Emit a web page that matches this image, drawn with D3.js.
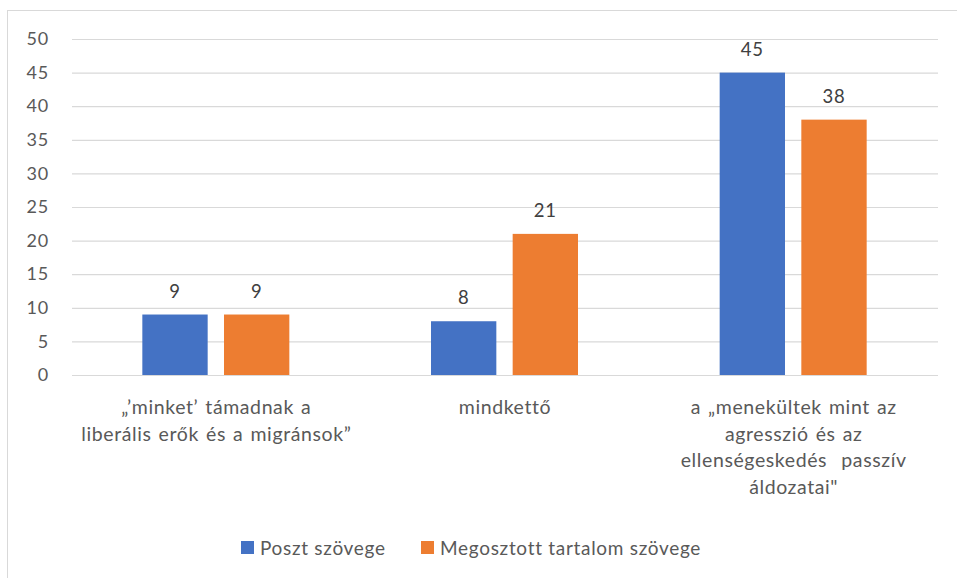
<!DOCTYPE html>
<html><head><meta charset="utf-8">
<script src="https://cdn.jsdelivr.net/npm/d3@7"></script>
<style>body{margin:0;background:#fff;} svg{display:block;font-family:Lato,"Open Sans",sans-serif;}</style>
</head><body>
<script>
const categories = [
  ["„’minket’ támadnak a", "liberális erők és a migránsok”"],
  ["mindkettő"],
  ["a „menekültek mint az", "agresszió és az", "ellenségeskedés  passzív", "áldozatai\""]
];
const seriesNames = ["Poszt szövege", "Megosztott tartalom szövege"];
const poszt = [9, 8, 45];
const megosztott = [9, 21, 38];
const yTicks = [0, 5, 10, 15, 20, 25, 30, 35, 40, 45, 50];
const colors = ["#4472C4", "#ED7D31"];

(function () {
const W = 957, H = 578;
const svg = d3.select("body").append("svg").attr("width", W).attr("height", H);
svg.append("rect").attr("x", 7.5).attr("y", 10.5).attr("width", 960).attr("height", 580)
  .attr("fill", "#fff").attr("stroke", "#d9d9d9").attr("stroke-width", 1);

const mL = 72, mR = 938, mT = 39, mB = 375;
const x = d3.scaleBand().domain(d3.range(categories.length)).range([mL, mR]).padding(0);
const y = d3.scaleLinear().domain([0, 50]).range([mB, mT]);

const yAxis = d3.axisLeft(y).tickValues(yTicks).tickSize(-(mR - mL)).tickPadding(23);
const gy = svg.append("g").attr("transform", `translate(${mL},0)`).call(yAxis);
gy.select(".domain").remove();
gy.selectAll(".tick line").attr("stroke", "#d9d9d9").attr("stroke-width", 1.2);
gy.selectAll(".tick text").attr("fill", "#595959").attr("font-size", 18)
  .attr("letter-spacing", "0.8px").attr("font-family", "Lato,sans-serif");

const data = categories.map((c, i) => ({i, vals: [poszt[i], megosztott[i]]}));
const x1 = d3.scaleBand().domain([0, 1]).range([-74, 73]).paddingInner(0.2);

const g = svg.append("g");
data.forEach(d => {
  d.vals.forEach((v, s) => {
    const bx = x(d.i) + x.bandwidth() / 2 + x1(s);
    g.append("rect").attr("x", bx).attr("y", y(v)).attr("width", x1.bandwidth())
      .attr("height", y(0) - y(v)).attr("fill", colors[s]);
    g.append("text").attr("x", bx + x1.bandwidth() / 2).attr("y", y(v) - 17)
      .attr("text-anchor", "middle").attr("fill", "#404040").attr("font-size", 18.5)
      .attr("letter-spacing", "0.8px").text(v);
  });
});

categories.forEach((lines, i) => {
  const cx = x(i) + x.bandwidth() / 2;
  const t = svg.append("text").attr("text-anchor", "middle").attr("fill", "#595959").attr("font-size", 19.5)
    .attr("letter-spacing", "0.6px").attr("word-spacing", "1.5px")
    .attr("x", cx).attr("y", 414);
  lines.forEach((l, k) => t.append("tspan").attr("x", cx).attr("dy", k === 0 ? 0 : 26.5)
    .style("white-space", "pre").text(l));
});

const legX = [241, 421];
seriesNames.forEach((n, s) => {
  svg.append("rect").attr("x", legX[s]).attr("y", 541).attr("width", 13).attr("height", 13).attr("fill", colors[s]);
  svg.append("text").attr("x", legX[s] + 19).attr("y", 554.5).attr("fill", "#595959").attr("font-size", 19)
    .attr("letter-spacing", "0.7px").text(n);
});
})();
</script>
</body></html>
